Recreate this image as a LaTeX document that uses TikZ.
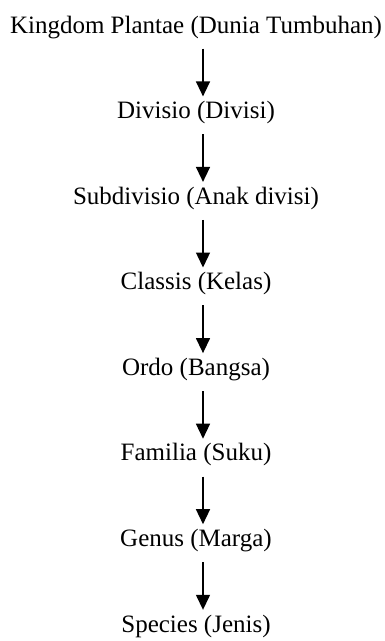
\documentclass[tikz,border=0pt]{standalone}
\usepackage{fontspec}
\setmainfont{Liberation Serif}
\usetikzlibrary{arrows.meta}
\begin{document}
\begin{tikzpicture}[x=1pt,y=1pt,
  lvl/.style={anchor=base,inner sep=0pt,text height=18pt,text depth=6pt,font=\fontsize{25}{30}\selectfont},
  arr/.style={line width=1.4pt,-{Triangle[length=15pt,width=14pt]},shorten <=9.5pt,shorten >=4pt}]
\useasboundingbox (0,0) rectangle (385,-641);
\coordinate (ax) at (203,0);
\node[lvl] (n1) at (196,-33) {Kingdom Plantae (Dunia Tumbuhan)};
\node[lvl] (n2) at (196,-118.6) {Divisio (Divisi)};
\node[lvl] (n3) at (196,-204.1) {Subdivisio (Anak divisi)};
\node[lvl] (n4) at (196,-289.7) {Classis (Kelas)};
\node[lvl] (n5) at (196,-375.3) {Ordo (Bangsa)};
\node[lvl] (n6) at (196,-460.9) {Familia (Suku)};
\node[lvl] (n7) at (196,-546.4) {Genus (Marga)};
\node[lvl] (n8) at (196,-632) {Species (Jenis)};
\foreach \a/\b in {n1/n2,n2/n3,n3/n4,n4/n5,n5/n6,n6/n7,n7/n8}
  \draw[arr] (\a.south -| ax) -- (\b.north -| ax);
\end{tikzpicture}
\end{document}
